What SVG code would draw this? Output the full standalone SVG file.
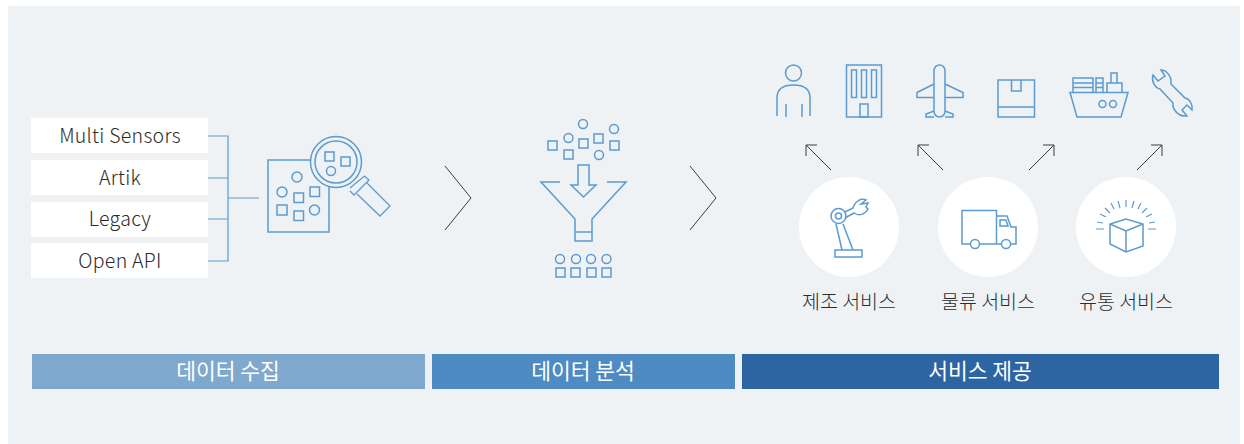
<svg xmlns="http://www.w3.org/2000/svg" width="1244" height="444" viewBox="0 0 1244 444">
<style>
.ln{fill:none;stroke:#5b9bcf;stroke-width:1.5;stroke-linejoin:miter}
.th{fill:none;stroke:#5b9bcf;stroke-width:1.2}
.ar{fill:none;stroke:#3d3d3d;stroke-width:1}
.src{fill:#fff}
.t{font-family:"Noto Sans CJK KR","Noto Sans",sans-serif;text-anchor:middle;font-weight:300}
.s{font-size:19.500px;fill:#2b2b2b}
.l{letter-spacing:.3px}
.b{font-size:21.500px;fill:#fff;font-weight:400}
</style>
<rect x="8" y="6" width="1232" height="438" fill="#eef2f5"/>
<g id="connectors">
<path class="th" d="M208 136H228V261H208M208 178H228M208 219H228M228 198H259"/>
<path class="ar" d="M445 166L471 198L445 230M690 166L716 198L690 230"/>
<path class="ar" d="M831 170L806 145M806 156V145H817M943 170L918 145M918 156V145H929M1029 170L1054 145M1043 145H1054V156M1137 170L1162 145M1151 145H1162V156"/>
</g>
<g id="src-multi"><rect class="src" x="31" y="118" width="177" height="35"/><text class="t s l" x="120" y="143">Multi Sensors</text></g>
<g id="src-artik"><rect class="src" x="31" y="160" width="177" height="35"/><text class="t s l" x="120" y="185">Artik</text></g>
<g id="src-legacy"><rect class="src" x="31" y="202" width="177" height="35"/><text class="t s l" x="120" y="226">Legacy</text></g>
<g id="src-api"><rect class="src" x="31" y="243" width="177" height="35"/><text class="t s l" x="120" y="268">Open API</text></g>
<g id="icon-analyze" class="ln">
<path d="M311 160H268V232H329V186"/>
<circle cx="297" cy="177" r="5"/><circle cx="282" cy="192" r="5"/><rect x="294" y="193" width="9.500" height="9.500"/><rect x="310" y="187" width="9.500" height="9.500"/><rect x="277" y="205" width="10" height="10"/><rect x="294" y="211" width="9.500" height="9.500"/><circle cx="314.500" cy="210" r="5"/>
<circle cx="336" cy="162" r="25.500"/><circle cx="336" cy="162" r="21"/>
<rect x="325" y="152" width="9" height="9"/><rect x="341" y="157" width="9" height="9"/><circle cx="331" cy="171" r="4.500"/>
<path d="M350 188L364.500 176L369 180L354 195L350 191M357 194L380 216L390 206L367 183" stroke-width="1.300"/>
</g>
<g id="icon-funnel" class="ln">
<circle cx="583" cy="124" r="4.500"/><circle cx="614" cy="129" r="4.500"/><circle cx="568.500" cy="138" r="4.500"/><rect x="548" y="141" width="9" height="9"/><rect x="579" y="139" width="9" height="9"/><rect x="594" y="134" width="9" height="9"/><rect x="610" y="141" width="9" height="9"/><rect x="564" y="150" width="9" height="9"/><circle cx="599" cy="155" r="4.500"/>
<path d="M578 165H589V185H596L583.500 197L571 185H578Z"/>
<path d="M560 182H541L575 219V241H592V219L626 182H607M575 232H592"/>
<circle cx="560" cy="259" r="4.500"/><circle cx="576" cy="259" r="4.500"/><circle cx="591" cy="259" r="4.500"/><circle cx="606.500" cy="259" r="4.500"/>
<rect x="556" y="268" width="9" height="9"/><rect x="571" y="268" width="9" height="9"/><rect x="587" y="268" width="9" height="9"/><rect x="602" y="268" width="9" height="9"/>
</g>
<g id="icon-person" class="ln"><circle cx="793.500" cy="73" r="8"/><path d="M777 116V98Q777 85 793.500 85Q810 85 810 98V116M786 104V117M802 104V117"/></g>
<g id="icon-building" class="ln"><rect x="846.500" y="65" width="35" height="52"/><rect x="851.500" y="70" width="5" height="27.500"/><rect x="861.500" y="70" width="5" height="27.500"/><rect x="871.500" y="70" width="5" height="27.500"/><rect x="860" y="104" width="8" height="13"/></g>
<g id="icon-plane" class="ln"><rect x="934" y="65" width="11" height="52" rx="5.500"/><path d="M934 84L917 92.500V97.500H934M945 84L963 92.500V97.500H945M934 111L926 114V117H934M945 111L953 114V117H945"/></g>
<g id="icon-box" class="ln"><rect x="998" y="80" width="36.500" height="37"/><path d="M998 107H1034.500M1011.500 80V91H1021V80"/></g>
<g id="icon-ship" class="ln"><path d="M1070 92.500H1128L1121 117H1077ZM1107 92V83H1122V92M1111 83V73H1117V83M1073 92V78H1093V92M1073 83H1093M1073 87.500H1093M1096 92V78H1103V92M1096 83H1103M1096 87.500H1103"/><circle cx="1102.500" cy="104" r="3.500"/><circle cx="1113" cy="104" r="3.500"/></g>
<g id="icon-wrench" class="ln"><path d="M1153 75L1158 81L1165 76L1161 70C1167 70 1172 77 1171 84L1185 98C1190 99 1193 105 1192 110L1187 105L1182 110L1187 116C1178 117 1172 109 1173 103L1160 89C1155 88 1151 81 1153 75Z"/></g>
<g id="svc-make">
<circle cx="849" cy="227" r="50" fill="#fff"/>
<g class="ln"><circle cx="838.500" cy="216" r="7.500"/><circle cx="838.500" cy="216" r="3"/><path d="M836 224L842 250M843 224L853 250M835 250H862V257H835ZM845 212L853 208C855 201 861 198 866 200L861 204L868 203L866 207L868 209C865 215 858 216 854 213L845 218"/></g>
<text class="t s" x="849" y="309">제조 서비스</text>
</g>
<g id="svc-logi">
<circle cx="988" cy="227" r="50" fill="#fff"/>
<g class="ln"><path d="M970 244H962V210.500H996.500V244M980 244H1001M996.500 216H1007L1011 227H1016V244H1011"/><path d="M1000 220H1006L1008 226H1000Z"/><circle cx="975" cy="244" r="4.500"/><circle cx="1006" cy="244" r="4.500"/></g>
<text class="t s" x="988" y="309">물류 서비스</text>
</g>
<g id="svc-dist">
<circle cx="1126" cy="227" r="50" fill="#fff"/>
<g class="ln"><path d="M1126 219L1110 224V244L1126 252L1143 246V224L1126 219ZM1110 224L1126 231L1143 224M1126 231V252"/><path d="M1126 200V207M1118 201L1120 208M1111 203L1114 209M1105 208L1110 213M1100 214L1106 217M1097 222L1103 223M1096 229H1104M1134 201L1132 208M1141 203L1138 209M1147 208L1142 213M1152 214L1146 217M1155 222L1149 223M1156 229H1148" stroke-width="1.200"/></g>
<text class="t s" x="1126" y="309">유통 서비스</text>
</g>
<g id="bar-collect"><rect x="32" y="354" width="393" height="35" fill="#7fa8cf"/><text class="t b" x="228" y="379">데이터 수집</text></g>
<g id="bar-analyze"><rect x="432" y="354" width="303" height="35" fill="#4d8bc2"/><text class="t b" x="583" y="379">데이터 분석</text></g>
<g id="bar-service"><rect x="742" y="354" width="477" height="35" fill="#2c65a2"/><text class="t b" x="980" y="379">서비스 제공</text></g>
</svg>
